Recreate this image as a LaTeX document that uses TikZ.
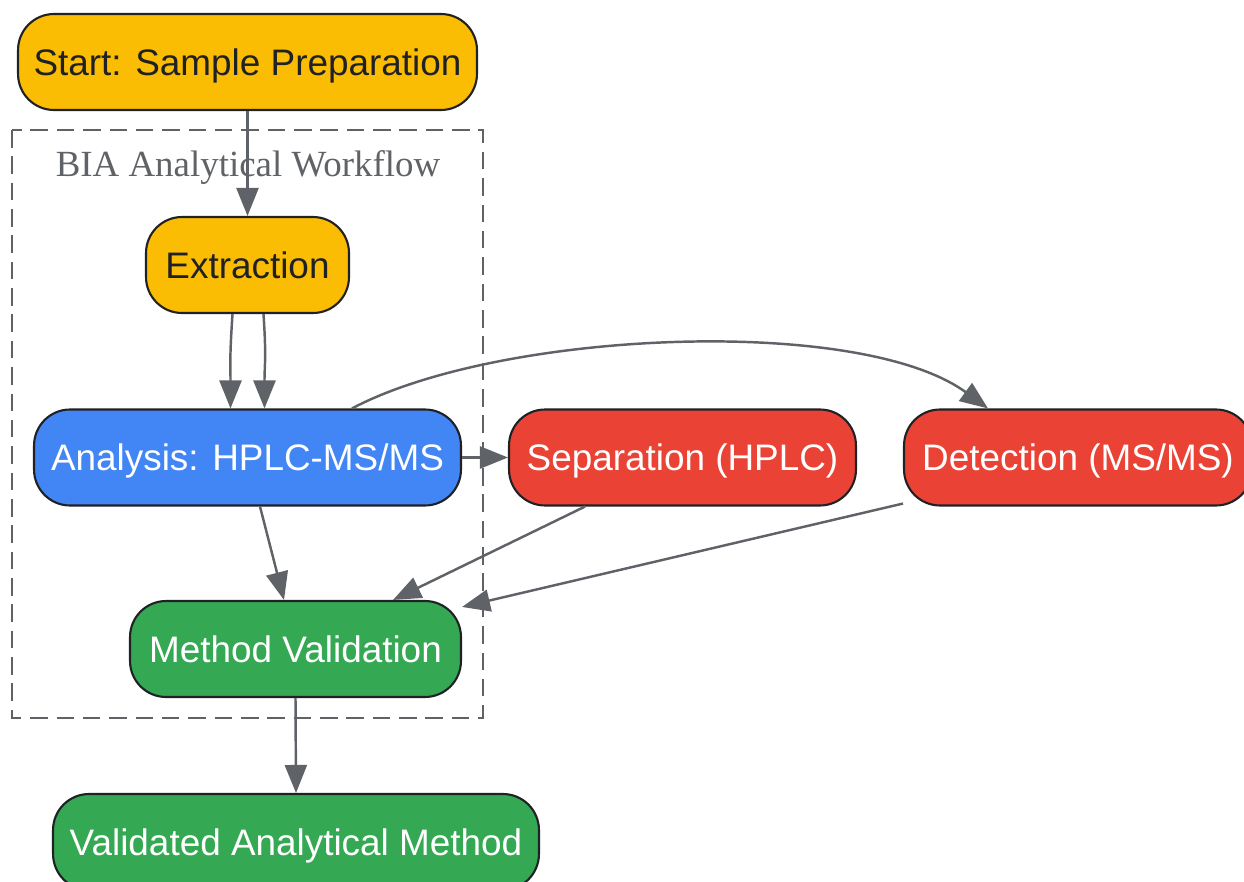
\documentclass[tikz,border=0pt]{standalone}
\usepackage{fontspec}
\setmainfont{Liberation Serif}
\setsansfont{Liberation Sans}
\usetikzlibrary{arrows.meta}
\definecolor{gelb}{HTML}{FBBC04}
\definecolor{blau}{HTML}{4285F4}
\definecolor{rot}{HTML}{EA4335}
\definecolor{gruen}{HTML}{34A853}
\definecolor{kante}{HTML}{5F6368}
\definecolor{rand}{HTML}{202124}
\begin{document}
\begin{tikzpicture}[
    x=0.02cm, y=-0.02cm,
    stepbox/.style={draw=rand, line width=1.2pt, rounded corners=0.72cm,
        minimum height=1.92cm, inner sep=0pt, text height=0.53cm, text depth=0pt,
        font=\sffamily\fontsize{21}{25}\selectfont},
    yellowbox/.style={stepbox, fill=gelb, text=rand},
    bluebox/.style={stepbox, fill=blau, text=white},
    redbox/.style={stepbox, fill=rot, text=white},
    greenbox/.style={stepbox, fill=gruen, text=white},
    flow/.style={draw=kante, line width=1.4pt,
        -{Triangle[length=0.56cm,width=0.44cm]}}
]
\useasboundingbox (0,0) rectangle (1244,882);

% Rahmen
\draw[kante, dash pattern=on 10pt off 5pt, line width=1.2pt]
    (12,130) rectangle (483,718);
\node[text=kante, text height=0.48cm, text depth=0pt, font=\rmfamily\fontsize{21}{25}\selectfont] (cluster) at (248,165) {BIA Analytical Workflow};

% Knoten
\node[yellowbox, minimum width=9.18cm] (start) at (247.5,62) {Start: Sample Preparation};
\node[yellowbox, minimum width=4.06cm] (extract) at (247.5,265) {Extraction};
\node[bluebox, minimum width=8.54cm] (analysis) at (247.5,457.5) {Analysis: HPLC-MS/MS};
\node[redbox, minimum width=6.94cm] (sep) at (682.5,457.5) {Separation (HPLC)};
\node[redbox, minimum width=6.96cm] (detect) at (1078,457.5) {Detection (MS/MS)};
\node[greenbox, minimum width=6.62cm] (valid) at (295.5,649) {Method Validation};
\node[greenbox, minimum width=9.72cm] (final) at (296,842) {Validated Analytical Method};

% Kanten
\draw[flow] (start.south) -- (extract.north);
\draw[flow] ([xshift=-0.3cm]extract.south) .. controls +(-0.06cm,-0.9cm) and +(0,0.9cm) .. ([xshift=-0.34cm]analysis.north);
\draw[flow] ([xshift=0.32cm]extract.south) .. controls +(0.06cm,-0.9cm) and +(0,0.9cm) .. ([xshift=0.34cm]analysis.north);
\draw[flow] (analysis.east) -- (sep.west);
\draw[flow] ([xshift=2.09cm]analysis.north) .. controls (500,330) and (860,315) .. ([xshift=-1.8cm]detect.north);
\draw[flow] ([xshift=0.25cm]analysis.south) -- ([xshift=-0.23cm]valid.north);
\draw[flow] ([xshift=-1.95cm]sep.south) -- ([xshift=1.95cm]valid.north);
\draw[flow] ([yshift=0.06cm]detect.south west) -- ([yshift=-0.14cm]valid.north east);
\draw[flow] (valid.south) -- (final.north);
\end{tikzpicture}
\end{document}
